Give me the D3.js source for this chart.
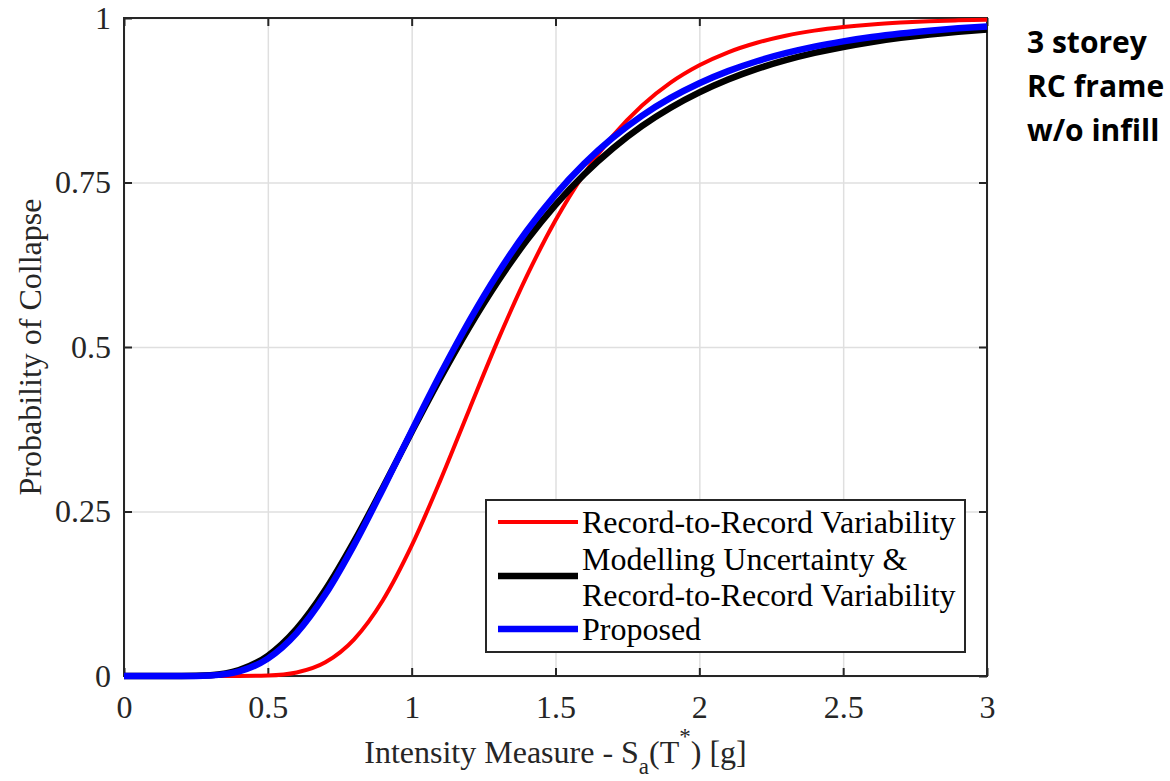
<!DOCTYPE html>
<html>
<head>
<meta charset="utf-8">
<title>Fragility curves - 3 storey RC frame</title>
<style>
  body { margin: 0; background: white; }
  svg { display: block; }
  .tick text { font-family: "Liberation Serif", "Times New Roman", serif; }
</style>
<script src="https://d3js.org/d3.v7.min.js"></script>
</head>
<body>
<script>
// intensity measure samples Sa(T*) [g]
let imValues = [0, 0.1, 0.2, 0.3, 0.4, 0.5, 0.6, 0.7, 0.8, 0.9, 1.0,
                1.1, 1.2, 1.3, 1.4, 1.5, 1.6, 1.7, 1.8, 1.9, 2.0,
                2.1, 2.2, 2.3, 2.4, 2.5, 2.6, 2.7, 2.8, 2.9, 3.0]

// probability of collapse
let recordToRecord = [0, 0, 0, 0, 0.0001, 0.0008, 0.0054, 0.0208, 0.0557, 0.1151, 0.198,
                      0.2977, 0.4048, 0.5104, 0.6076, 0.6925, 0.7636, 0.8212, 0.8667, 0.9017, 0.9281,
                      0.9479, 0.9624, 0.9731, 0.9808, 0.9863, 0.9903, 0.9931, 0.9951, 0.9965, 0.9975]
let modellingAndRecord = [0, 0, 0.0001, 0.0013, 0.009, 0.0307, 0.0715, 0.1309, 0.2045, 0.2864, 0.3708,
                          0.453, 0.53, 0.6, 0.662, 0.7161, 0.7626, 0.8021, 0.8356, 0.8636, 0.8869,
                          0.9064, 0.9226, 0.9359, 0.9469, 0.956, 0.9636, 0.9698, 0.9749, 0.9791, 0.9826]
let proposed = [0, 0, 0, 0.0009, 0.007, 0.0264, 0.0651, 0.1241, 0.1993, 0.2843, 0.3726,
                0.4588, 0.5394, 0.6122, 0.6763, 0.7317, 0.7787, 0.8183, 0.8513, 0.8785, 0.9009,
                0.9193, 0.9343, 0.9465, 0.9565, 0.9645, 0.9711, 0.9764, 0.9807, 0.9843, 0.9871]

let xTicks = [0, 0.5, 1, 1.5, 2, 2.5, 3]
let yTicks = [0, 0.25, 0.5, 0.75, 1]

let seriesNames = ["Record-to-Record Variability",
                   "Modelling Uncertainty &\nRecord-to-Record Variability",
                   "Proposed"]
let noteLines = ["3 storey", "RC frame", "w/o infill"]

let width = 1170
let height = 781
let margin = {left: 124, top: 18, right: 183, bottom: 105}
let plotW = width - margin.left - margin.right
let plotH = height - margin.top - margin.bottom
let serif = '"Liberation Serif", "Times New Roman", serif'
let axisColor = "#262626"

let svg = d3.select("body").append("svg")
    .attr("width", width)
    .attr("height", height)

let g = svg.append("g")
    .attr("transform", `translate(${margin.left},${margin.top})`)

let x = d3.scaleLinear().domain([0, 3]).range([0, plotW])
let y = d3.scaleLinear().domain([0, 1]).range([plotH, 0])

// grid
g.append("g")
    .attr("transform", `translate(0,${plotH})`)
    .call(d3.axisBottom(x).tickValues(xTicks).tickSize(-plotH).tickFormat(""))
    .call(a => a.select(".domain").remove())
    .call(a => a.selectAll("line").attr("stroke", "#dfdfdf").attr("stroke-width", 1.5))
g.append("g")
    .call(d3.axisLeft(y).tickValues(yTicks).tickSize(-plotW).tickFormat(""))
    .call(a => a.select(".domain").remove())
    .call(a => a.selectAll("line").attr("stroke", "#dfdfdf").attr("stroke-width", 1.5))

// axes with inward ticks
let styleAxis = a => {
    a.select(".domain").remove()
    a.selectAll("line").attr("stroke", axisColor).attr("stroke-width", 2)
    a.selectAll("text").attr("fill", axisColor).attr("font-size", 32).attr("font-family", serif)
}
g.append("g")
    .attr("transform", `translate(0,${plotH})`)
    .call(d3.axisBottom(x).tickValues(xTicks).tickSizeInner(-8).tickPadding(19).tickFormat(d => d))
    .call(styleAxis)
g.append("g")
    .call(d3.axisTop(x).tickValues(xTicks).tickSizeInner(-8).tickFormat(""))
    .call(styleAxis)
g.append("g")
    .call(d3.axisLeft(y).tickValues(yTicks).tickSizeInner(-8).tickPadding(13).tickFormat(d => d))
    .call(styleAxis)
g.append("g")
    .attr("transform", `translate(${plotW},0)`)
    .call(d3.axisRight(y).tickValues(yTicks).tickSizeInner(-8).tickFormat(""))
    .call(styleAxis)

g.append("rect")
    .attr("width", plotW)
    .attr("height", plotH)
    .attr("fill", "none")
    .attr("stroke", axisColor)
    .attr("stroke-width", 2)

// curves
let series = [
    {name: seriesNames[0], values: recordToRecord, color: "#ff0000", w: 4},
    {name: seriesNames[1], values: modellingAndRecord, color: "#000000", w: 6.5},
    {name: seriesNames[2], values: proposed, color: "#0000ff", w: 6.5}
]

let line = d3.line()
    .x((d, i) => x(imValues[i]))
    .y(d => y(d))
    .curve(d3.curveMonotoneX)

g.selectAll(".curve")
    .data(series)
    .enter()
    .append("path")
    .attr("class", "curve")
    .attr("d", d => line(d.values))
    .attr("fill", "none")
    .attr("stroke", d => d.color)
    .attr("stroke-width", d => d.w)
    .attr("stroke-linejoin", "round")

// legend
let legend = svg.append("g").attr("id", "legend")
legend.append("rect")
    .attr("x", 486)
    .attr("y", 500)
    .attr("width", 479)
    .attr("height", 152)
    .attr("fill", "white")
    .attr("stroke", axisColor)
    .attr("stroke-width", 2)

let legendLineY = [522, 576, 629]
let textBaselines = [[533], [570, 606], [640]]
series.forEach((s, i) => {
    legend.append("line")
        .attr("x1", 498)
        .attr("x2", 578)
        .attr("y1", legendLineY[i])
        .attr("y2", legendLineY[i])
        .attr("stroke", s.color)
        .attr("stroke-width", s.w)
    s.name.split("\n").forEach((t, j) => {
        legend.append("text")
            .attr("x", 582)
            .attr("y", textBaselines[i][j])
            .attr("font-family", serif)
            .attr("font-size", 32)
            .attr("fill", "black")
            .text(t)
    })
})

// axis labels
let xLabel = svg.append("text")
    .attr("x", margin.left + plotW / 2)
    .attr("y", 763)
    .attr("text-anchor", "middle")
    .attr("font-family", serif)
    .attr("font-size", 32)
    .attr("fill", axisColor)
xLabel.append("tspan").text("Intensity Measure - S")
xLabel.append("tspan").attr("dy", 11).attr("font-size", 23).text("a")
xLabel.append("tspan").attr("dy", -11).text("(T")
xLabel.append("tspan").attr("dy", -19).attr("font-size", 23).text("*")
xLabel.append("tspan").attr("dy", 19).text(") [g]")

svg.append("text")
    .attr("transform", `translate(41,${margin.top + plotH / 2}) rotate(-90)`)
    .attr("text-anchor", "middle")
    .attr("font-family", serif)
    .attr("font-size", 32)
    .attr("fill", axisColor)
    .text("Probability of Collapse")

// side note
noteLines.forEach((t, i) => {
    svg.append("text")
        .attr("x", 1027)
        .attr("y", 53 + i * 44)
        .attr("font-family", '"Open Sans", sans-serif')
        .attr("font-weight", "bold")
        .attr("font-size", 30)
        .attr("fill", "black")
        .text(t)
})
</script>
</body>
</html>
